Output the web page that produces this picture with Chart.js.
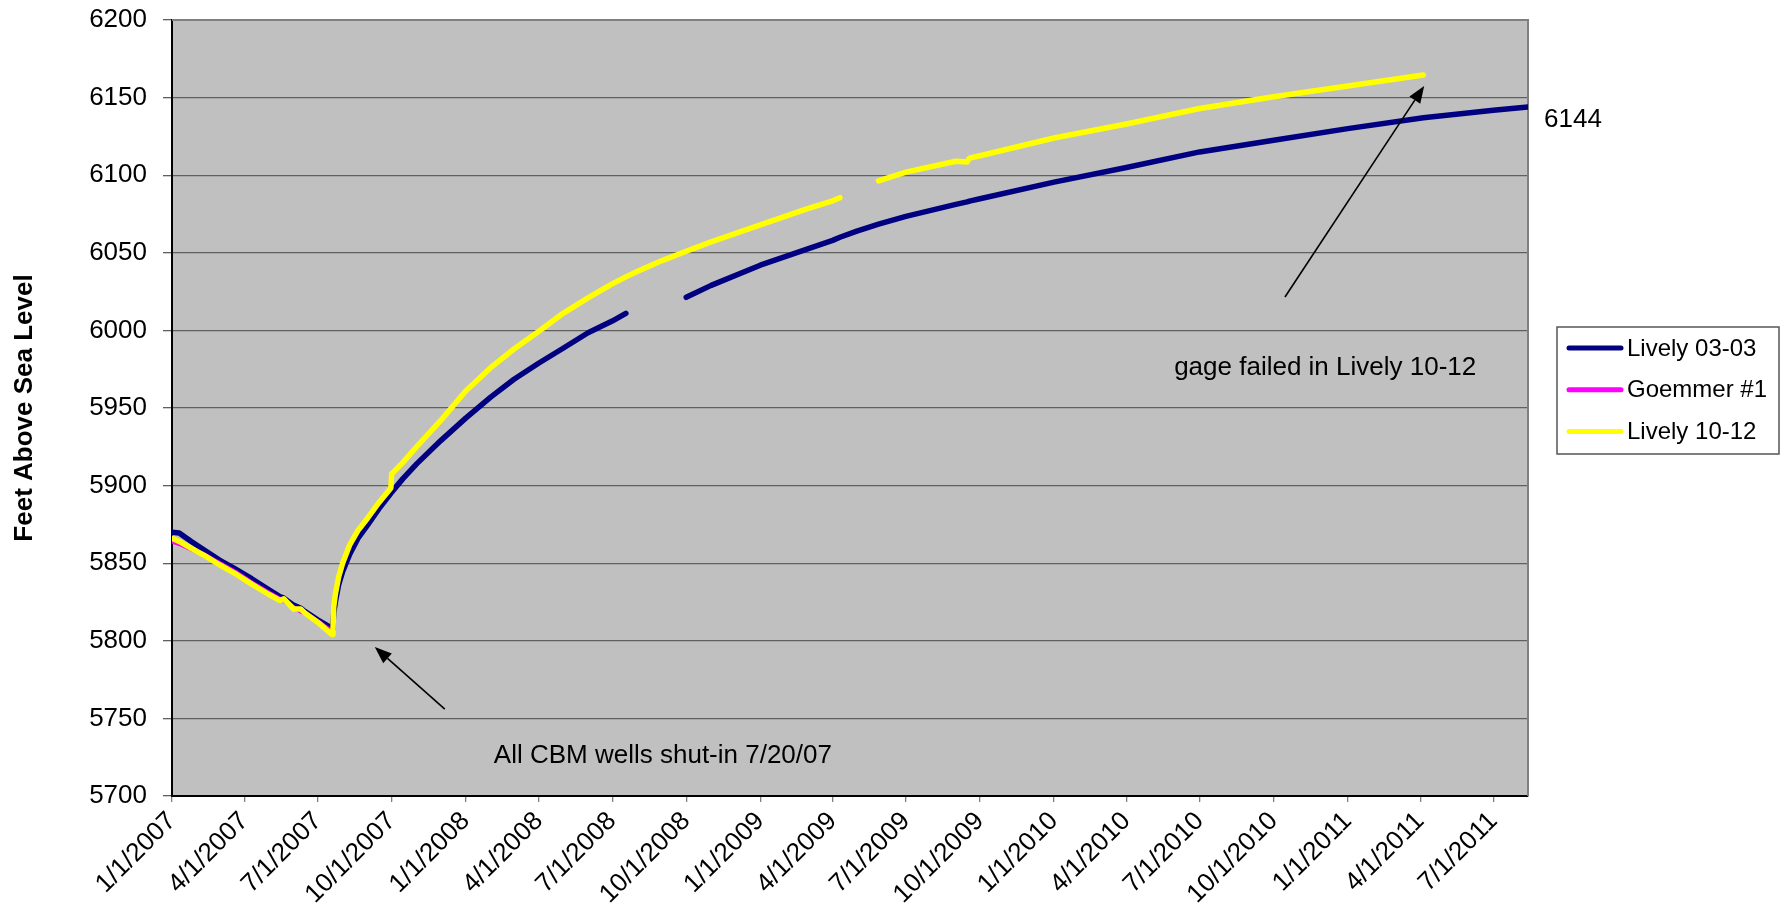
<!DOCTYPE html>
<html>
<head>
<meta charset="utf-8">
<title>Water level - Lively wells</title>
<script src="https://cdn.jsdelivr.net/npm/chart.js@4.4.1/dist/chart.umd.min.js"></script>
<style>
  html, body { margin: 0; padding: 0; background: #fff; }
</style>
</head>
<body>
<canvas id="chart" width="1789" height="915"></canvas>
<script>
// sample dates, one value per well for each date (null = no reading)
const dates = [
  '1/1/2007', '1/10/2007', '1/25/2007', '2/10/2007', '3/1/2007', '3/20/2007', '4/10/2007',
  '5/1/2007', '5/15/2007', '5/20/2007', '6/1/2007', '6/10/2007', '6/15/2007', '7/1/2007',
  '7/19/2007', '7/20/2007', '7/21/2007', '7/23/2007', '7/27/2007', '8/1/2007', '8/10/2007',
  '8/20/2007', '9/1/2007', '9/15/2007', '9/30/2007', '10/1/2007', '10/15/2007', '11/1/2007',
  '12/1/2007', '1/1/2008', '2/1/2008', '3/1/2008', '4/1/2008', '5/1/2008', '6/1/2008',
  '7/1/2008', '7/18/2008', '8/1/2008', '9/1/2008', '10/1/2008', '11/1/2008', '1/1/2009',
  '3/1/2009', '4/1/2009', '4/10/2009', '5/1/2009', '5/28/2009', '7/1/2009', '9/1/2009',
  '9/15/2009', '9/18/2009', '10/1/2009', '1/1/2010', '4/1/2010', '7/1/2010', '10/1/2010',
  '1/1/2011', '4/5/2011', '7/1/2011', '8/13/2011'
];

const lively0303 = [
  5870, 5869.5, 5864, 5858.5, 5852, 5846.5, 5840,
  5833, 5828.5, 5827.5, 5823, 5821, 5819, 5813.5,
  5808, 5810, 5818, 5825, 5836, 5844.5, 5856,
  5866, 5874.5, 5885, 5895, 5895.8, 5904.5, 5914,
  5929, 5943.5, 5957, 5968.5, 5979, 5988.5, 5998.5,
  6006, 6011, null, null, 6021.3, 6029, 6042,
  6052.5, 6058, 6060, 6064, 6068.5, 6073.5, 6081.2,
  6082.8, 6083.3, 6084.8, 6095.5, 6105, 6115, 6122.5,
  6130, 6137, 6141.8, 6144
];

const goemmer1 = [
  5864, 5862.5, 5859, 5855.5, 5850, 5844.5, 5837.5,
  5831, 5827, 5826, 5821.5, 5819, 5818, 5812.5,
  5806, null, null, null, null, null, null,
  null, null, null, null, null, null, null,
  null, null, null, null, null, null, null,
  null, null, null, null, null, null, null,
  null, null, null, null, null, null, null,
  null, null, null, null, null, null, null,
  null, null, null, null
];

const lively1012 = [
  5866, 5864, 5859.5, 5855, 5849, 5843.5, 5836.5,
  5830, 5826, 5827, 5820.5, 5820.5, 5818, 5812,
  5804, 5806, 5822, 5830, 5841, 5850, 5862,
  5871, 5879, 5889, 5898.5, 5907.5, 5915, 5925,
  5942, 5961, 5976, 5988, 5999.5, 6011, 6021,
  6030, 6034.5, 6038, 6045, 6051, 6057, 6068,
  6078.5, 6083.5, 6085.5, null, 6096.3, 6102, 6109,
  6108.5, 6111, 6112.5, 6124, 6133, 6143, 6150.5,
  6157.5, 6164.5, null, null
];

const tickLabels = [
  '1/1/2007', '4/1/2007', '7/1/2007', '10/1/2007',
  '1/1/2008', '4/1/2008', '7/1/2008', '10/1/2008',
  '1/1/2009', '4/1/2009', '7/1/2009', '10/1/2009',
  '1/1/2010', '4/1/2010', '7/1/2010', '10/1/2010',
  '1/1/2011', '4/1/2011', '7/1/2011'
];

const yMin = 5700;
const yMax = 6200;
const yStep = 50;

const FONT = '"Liberation Sans", Arial, sans-serif';

// days since 1/1/2007
function dayNum(s) {
  var p = s.split('/');
  return (Date.UTC(+p[2], +p[0] - 1, +p[1]) - Date.UTC(2007, 0, 1)) / 86400000;
}

function points(values) {
  return dates.map(function(d, i) { return {x: dayNum(d), y: values[i]}; });
}

var labelByDay = {};
tickLabels.forEach(function(l) { labelByDay[dayNum(l)] = l; });

// notes on the plot, anchored in data coordinates
const notes = [
  {text: 'All CBM wells shut-in 7/20/07', textAt: ['9/2/2008', 5726],
   from: ['12/6/2007', 5756], to: ['9/10/2007', 5796]},
  {text: 'gage failed in Lively 10-12', textAt: ['12/4/2010', 5976],
   from: ['10/15/2010', 6021.5], to: ['4/6/2011', 6157.5]}
];

const plotArea = {
  id: 'plotArea',
  beforeDraw: function(chart) {
    var a = chart.chartArea, ctx = chart.ctx;
    ctx.save();
    ctx.fillStyle = '#c0c0c0';
    ctx.fillRect(a.left, a.top, a.right - a.left, a.bottom - a.top);
    ctx.restore();
  },
  beforeDatasetsDraw: function(chart) {
    var a = chart.chartArea, ctx = chart.ctx;
    ctx.save();
    ctx.strokeStyle = '#808080';
    ctx.lineWidth = 2;
    ctx.beginPath();
    ctx.moveTo(a.left, a.top);
    ctx.lineTo(a.right, a.top);
    ctx.lineTo(a.right, a.bottom);
    ctx.stroke();
    ctx.restore();
  }
};

const extras = {
  id: 'extras',
  afterDraw: function(chart) {
    var ctx = chart.ctx, x = chart.scales.x, y = chart.scales.y, a = chart.chartArea;
    ctx.save();

    // arrows and notes
    notes.forEach(function(n) {
      var x1 = x.getPixelForValue(dayNum(n.from[0])), y1 = y.getPixelForValue(n.from[1]);
      var x2 = x.getPixelForValue(dayNum(n.to[0])), y2 = y.getPixelForValue(n.to[1]);
      var ang = Math.atan2(y2 - y1, x2 - x1), len = 17, hw = 6.5;
      var bx = x2 - len * Math.cos(ang), by = y2 - len * Math.sin(ang);
      ctx.strokeStyle = '#000';
      ctx.fillStyle = '#000';
      ctx.lineWidth = 1.6;
      ctx.beginPath();
      ctx.moveTo(x1, y1);
      ctx.lineTo(bx, by);
      ctx.stroke();
      ctx.beginPath();
      ctx.moveTo(x2, y2);
      ctx.lineTo(bx + hw * Math.sin(ang), by - hw * Math.cos(ang));
      ctx.lineTo(bx - hw * Math.sin(ang), by + hw * Math.cos(ang));
      ctx.closePath();
      ctx.fill();

      ctx.font = '26px ' + FONT;
      ctx.textAlign = 'center';
      ctx.textBaseline = 'middle';
      ctx.fillText(n.text, x.getPixelForValue(dayNum(n.textAt[0])), y.getPixelForValue(n.textAt[1]));
    });

    // value label at the end of Lively 03-03
    var last = lively0303.length - 1;
    ctx.font = '26px ' + FONT;
    ctx.textAlign = 'left';
    ctx.textBaseline = 'middle';
    ctx.fillText(String(Math.round(lively0303[last])),
      x.getPixelForValue(dayNum(dates[last])) + 16, y.getPixelForValue(lively0303[last]) + 13);

    // legend box
    var lx = a.right + 29, ly = 327, lw = 222, lh = 127;
    ctx.fillStyle = '#fff';
    ctx.fillRect(lx, ly, lw, lh);
    ctx.strokeStyle = '#555';
    ctx.lineWidth = 1.5;
    ctx.strokeRect(lx, ly, lw, lh);
    ctx.font = '24px ' + FONT;
    ctx.textAlign = 'left';
    ctx.textBaseline = 'middle';
    chart.data.datasets.forEach(function(ds, i) {
      var rowY = ly + 21 + i * 41.7;
      ctx.strokeStyle = ds.borderColor;
      ctx.lineWidth = 5;
      ctx.lineCap = 'round';
      ctx.beginPath();
      ctx.moveTo(lx + 12, rowY);
      ctx.lineTo(lx + 64, rowY);
      ctx.stroke();
      ctx.fillStyle = '#000';
      ctx.fillText(ds.label, lx + 70, rowY + 1);
    });
    ctx.restore();
  }
};

var lineStyle = {
  pointRadius: 0,
  pointHoverRadius: 0,
  tension: 0,
  borderCapStyle: 'round',
  borderJoinStyle: 'round',
  spanGaps: false,
  fill: false
};

new Chart(document.getElementById('chart'), {
  type: 'line',
  data: {
    datasets: [
      Object.assign({label: 'Lively 03-03', data: points(lively0303), borderColor: '#000080',
        borderWidth: 5.5, order: 3}, lineStyle),
      Object.assign({label: 'Goemmer #1', data: points(goemmer1), borderColor: '#ff00ff',
        borderWidth: 4.5, order: 2}, lineStyle),
      Object.assign({label: 'Lively 10-12', data: points(lively1012), borderColor: '#ffff00',
        borderWidth: 5.5, order: 1}, lineStyle)
    ]
  },
  options: {
    responsive: false,
    animation: false,
    events: [],
    layout: { padding: {left: 0, right: 261, top: 20, bottom: 0} },
    plugins: {
      legend: { display: false },
      tooltip: { enabled: false }
    },
    scales: {
      x: {
        type: 'linear',
        min: 0,
        max: dayNum(dates[dates.length - 1]),
        afterBuildTicks: function(scale) {
          scale.ticks = tickLabels.map(function(l) { return {value: dayNum(l)}; });
        },
        afterFit: function(scale) {
          scale.height = 119;
          scale.paddingLeft = 0;
          scale.paddingRight = 0;
        },
        grid: { drawOnChartArea: false, drawTicks: true, tickLength: 6, color: '#808080', lineWidth: 1.3 },
        border: { display: true, color: '#000', width: 2 },
        ticks: {
          autoSkip: false,
          maxRotation: 45,
          minRotation: 45,
          padding: 4,
          color: '#000',
          font: { family: FONT, size: 26 },
          callback: function(v) { return labelByDay[v] || ''; }
        }
      },
      y: {
        min: yMin,
        max: yMax,
        afterFit: function(scale) {
          scale.width = 172;
          scale.paddingTop = 0;
          scale.paddingBottom = 0;
        },
        grid: { color: '#606060', lineWidth: 1.3, tickLength: 9 },
        border: { display: true, color: '#000', width: 2 },
        ticks: {
          stepSize: yStep,
          padding: 16,
          color: '#000',
          font: { family: FONT, size: 26 },
          callback: function(v) { return String(v); }
        },
        title: {
          display: true,
          text: 'Feet Above Sea Level',
          color: '#000',
          font: { family: FONT, size: 26, weight: 'bold' },
          padding: { top: 9, bottom: 0 }
        }
      }
    }
  },
  plugins: [plotArea, extras]
});
</script>
</body>
</html>
